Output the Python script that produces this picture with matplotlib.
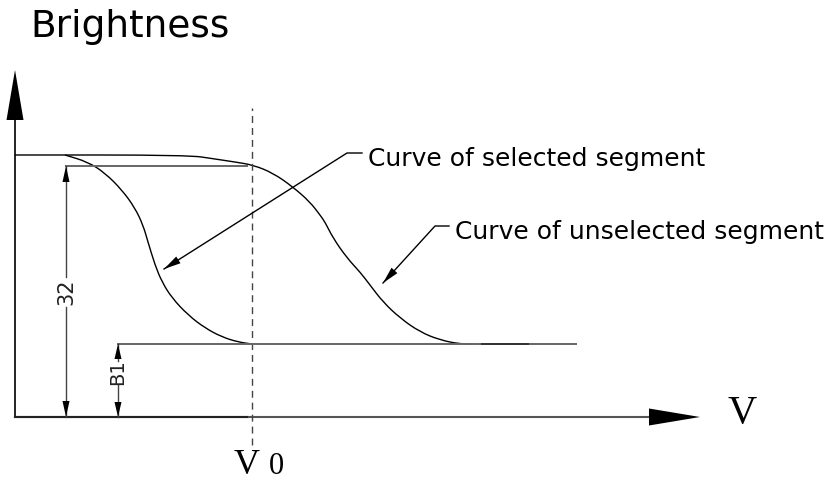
import matplotlib
matplotlib.use("Agg")
import matplotlib.pyplot as plt
from matplotlib.path import Path
from matplotlib.patches import PathPatch
import numpy as np

# ---- data (V on x, Brightness on y; arbitrary diagram units) ----
unsel_v = [0, 173, 200, 220, 238, 258, 278, 295, 305, 310, 318, 332, 345, 355,
           368, 385, 405, 425, 445, 458]
unsel_b = [262, 262, 258, 255, 252, 244, 230, 215, 202, 195, 179, 159, 145, 132,
           115, 99, 85, 77, 73, 73]

sel_v = [50, 73, 90, 107, 120, 128, 133, 140, 147, 157, 173, 190, 207, 223, 237]
sel_b = [262, 255, 244, 227, 209, 192, 175, 152, 135, 119, 102, 89, 80, 75, 73]

V0 = 237            # threshold voltage
level_32 = 251      # brightness level "32"
level_B1 = 73       # brightness level "B1"
v_end = 561         # end of flat bottom line
dim32_v = 51
dimB1_v = 103

labels = ["Curve of selected segment", "Curve of unselected segment"]
leader_tip = [(149, 148), (368, 134)]
leader_elbow = [(332, 264), (420, 191)]
leader_end = [(347, 264), (434, 191)]

fig = plt.figure(figsize=(8.31, 4.82), dpi=100)
ax = fig.add_axes([0, 0, 1, 1])
ax.set_xlim(-15, 816)
ax.set_ylim(-65, 417)
ax.axis("off")


def head(tip, frm, L, W, color="black"):
    tip = np.array(tip, float)
    frm = np.array(frm, float)
    d = tip - frm
    d /= np.hypot(*d)
    n = np.array([-d[1], d[0]])
    base = tip - d * L
    pts = np.array([tip, base + n * W, base - n * W])
    ax.fill(pts[:, 0], pts[:, 1], color=color, lw=0, zorder=5)


def smooth_curve(xs, ys, **kw):
    """Draw a polyline with rounded corners (quadratic Bezier through midpoints)."""
    P = np.column_stack([xs, ys]).astype(float)
    verts = [P[0], (P[0] + P[1]) / 2]
    codes = [Path.MOVETO, Path.LINETO]
    for i in range(1, len(P) - 1):
        verts += [P[i], (P[i] + P[i + 1]) / 2]
        codes += [Path.CURVE3, Path.CURVE3]
    verts.append(P[-1])
    codes.append(Path.LINETO)
    ax.add_patch(PathPatch(Path(verts, codes), fill=False, **kw))


# axes
ax.plot([0, 0], [0, 300], color="black", lw=1.2)
head((0, 347), (0, 0), 50, 8.5)
ax.plot([0, 640], [0, 0], color="#555555", lw=1.5)
ax.plot([0, 232], [0, 0], color="#222222", lw=1.5)
head((685, 0), (0, 0), 51, 8.5)

# dashed V0 line
ax.plot([V0, V0], [-28, 309], color="#444444", lw=1.0, linestyle=(0, (5, 3.6)))

# curves
smooth_curve(unsel_v, unsel_b, edgecolor="black", lw=1.0)
smooth_curve(sel_v, sel_b, edgecolor="black", lw=1.0)

# reference levels
ax.plot([dim32_v, 232], [level_32, level_32], color="#666666", lw=1.4)
ax.plot([dimB1_v, v_end], [level_B1, level_B1], color="#666666", lw=1.4)
ax.plot([467, 513], [level_B1, level_B1], color="#333333", lw=1.4)

# dimension "32"
ax.plot([dim32_v, dim32_v], [level_32, 140], color="#444444", lw=1.0)
ax.plot([dim32_v, dim32_v], [110, 0], color="#444444", lw=1.0)
head((dim32_v, level_32), (dim32_v, 0), 16, 3.5)
head((dim32_v, 0), (dim32_v, level_32), 16, 3.5)
ax.text(dim32_v, 125, "32", rotation=90, ha="center", va="center",
        fontsize=15, color="#222222", family="DejaVu Sans")

# dimension "B1"
ax.plot([dimB1_v, dimB1_v], [level_B1, 56], color="#444444", lw=1.0)
ax.plot([dimB1_v, dimB1_v], [32, 0], color="#444444", lw=1.0)
head((dimB1_v, level_B1), (dimB1_v, 0), 15, 3.5)
head((dimB1_v, 0), (dimB1_v, level_B1), 15, 3.5)
ax.text(dimB1_v, 45, "B1", rotation=90, ha="center", va="center",
        fontsize=14, color="#222222", family="DejaVu Sans")

# leaders and labels
for lab, tip, elb, end in zip(labels, leader_tip, leader_elbow, leader_end):
    ax.plot([tip[0], elb[0], end[0]], [tip[1], elb[1], end[1]], color="black", lw=1.0)
    head(tip, elb, 17, 4)
    ax.text(end[0] + 6, end[1] - 13, lab, ha="left", va="baseline",
            fontsize=18, color="black", family="DejaVu Sans")

# titles
ax.text(15, 380, "Brightness", ha="left", va="baseline", fontsize=27,
        color="black", family="DejaVu Sans")
ax.text(713, -6, "V", ha="left", va="baseline", fontsize=29,
        color="black", family="Liberation Serif")
ax.text(219, -57, "V", ha="left", va="baseline", fontsize=26,
        color="black", family="Liberation Serif")
ax.text(254, -57, "0", ha="left", va="baseline", fontsize=22,
        color="black", family="Liberation Serif")

fig.savefig("out.png", dpi=100)
